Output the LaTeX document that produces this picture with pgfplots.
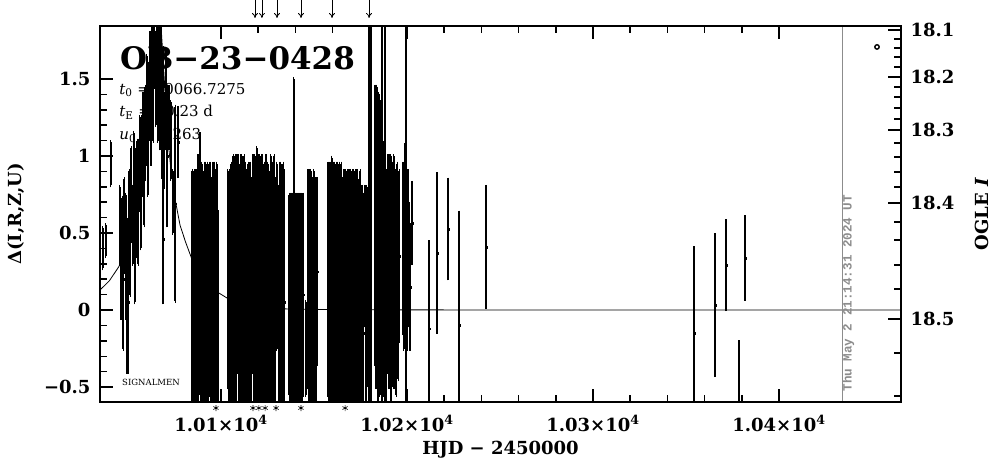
\documentclass[border=0pt]{standalone}
\usepackage{fontspec}
\setmainfont{DejaVu Serif}
\newfontfamily\stampfont{Liberation Mono}
\usepackage{pgfplots}
\pgfplotsset{compat=1.18}
\usetikzlibrary{arrows.meta}

\begin{document}
\begin{tikzpicture}
\path[use as bounding box] (-100pt,-57pt) rectangle (904pt,402pt);
\begin{axis}[
    at={(0,0)}, anchor=south west,
    scale only axis, width=801pt, height=376pt,
    xmin=10034.95, xmax=10465.6,
    ymin=-0.597, ymax=1.844,
    axis line style={line width=1.6pt},
    tick align=inside, xtick pos=both, ytick pos=left,
    scaled x ticks=false,
    xtick={10100,10200,10300,10400},
    xticklabels={1.01×10\textsuperscript{4},1.02×10\textsuperscript{4},1.03×10\textsuperscript{4},1.04×10\textsuperscript{4}},
    minor x tick num=4,
    ytick={-0.5,0,0.5,1,1.5},
    yticklabels={−0.5,0,0.5,1,1.5},
    minor y tick num=4,
    major tick length=13pt, minor tick length=7pt,
    every tick/.style={black, line width=1.5pt},
    ticklabel style={font=\fontsize{18}{18}\selectfont\bfseries},
    xticklabel style={yshift=-10pt},
    yticklabel style={xshift=-6pt},
    xlabel style={font=\fontsize{18}{18}\selectfont\bfseries, yshift=-3pt},
    ylabel style={font=\fontsize{18}{18}\selectfont\bfseries},
    xlabel={HJD − 2450000},
    ylabel={Δ(I,R,Z,U)},
    ylabel shift=13pt,
]
% model curve
\addplot[black, line width=0.8pt] coordinates {
(10034.95,0.13)(10040,0.19)(10045,0.28)(10048,0.36)(10051,0.47)(10054,0.62)
(10057,0.82)(10060,1.08)(10062,1.30)(10064,1.60)(10065.5,1.85)(10066.7,1.95)
(10068,1.80)(10069.5,1.50)(10071,1.17)(10073,0.92)(10075,0.74)(10078,0.55)
(10081,0.44)(10085,0.31)(10090,0.20)(10095,0.14)(10098,0.117)(10105,0.065)
(10110,0.035)(10120,0.015)(10140,0.005)(10200,0.001)(10465.6,0.0)
};
% photometry
\addplot[black, only marks, mark=square*, mark size=0.8pt,
    error bars/.cd, y dir=both, y explicit,
    error bar style={line width=2pt},
    error mark options={black, mark size=2pt, line width=1.2pt}]
coordinates {
(10036.5,0.40) +- (0,0.13)
(10038.0,0.45) +- (0,0.10)
(10040.8,0.95) +- (0,0.14)
(10045.5,0.55) +- (0,0.25)
(10046.2,0.30) +- (0,0.35)
(10046.9,0.45) +- (0,0.28)
(10047.5,0.20) +- (0,0.45)
(10048.1,0.55) +- (0,0.30)
(10048.7,0.35) +- (0,0.40)
(10049.3,0.10) +- (0,0.50)
(10050.0,0.05) +- (0,0.45)
(10050.6,0.60) +- (0,0.30)
(10051.2,0.45) +- (0,0.35)
(10051.8,0.75) +- (0,0.30)
(10052.5,0.55) +- (0,0.25)
(10053.1,0.85) +- (0,0.30)
(10053.7,0.40) +- (0,0.35)
(10054.4,0.70) +- (0,0.35)
(10055.0,0.80) +- (0,0.30)
(10055.6,0.70) +- (0,0.40)
(10056.3,0.95) +- (0,0.30)
(10056.9,0.75) +- (0,0.35)
(10057.5,1.00) +- (0,0.25)
(10058.1,1.10) +- (0,0.30)
(10058.7,0.90) +- (0,0.35)
(10059.4,1.15) +- (0,0.30)
(10060.0,1.30) +- (0,0.35)
(10060.6,1.05) +- (0,0.30)
(10061.2,1.35) +- (0,0.25)
(10061.8,1.50) +- (0,0.30)
(10062.4,1.25) +- (0,0.30)
(10063.0,1.60) +- (0,0.25)
(10063.6,1.45) +- (0,0.35)
(10064.2,1.70) +- (0,0.25)
(10064.8,1.50) +- (0,0.30)
(10065.4,1.75) +- (0,0.20)
(10066.0,1.40) +- (0,0.30)
(10066.6,1.65) +- (0,0.35)
(10067.2,1.30) +- (0,0.25)
(10067.8,1.55) +- (0,0.30)
(10068.4,1.20) +- (0,0.35)
(10068.8,0.46) +- (0,0.41)
(10069.0,1.45) +- (0,0.25)
(10069.6,1.10) +- (0,0.30)
(10070.2,1.35) +- (0,0.30)
(10071.0,1.00) +- (0,0.45)
(10072.0,1.25) +- (0,0.20)
(10073.0,1.10) +- (0,0.25)
(10074.0,0.70) +- (0,0.20)
(10075.5,0.69) +- (0,0.63)
(10076.9,1.09) +- (0,0.22)
(10084.6,0.15) +- (0,0.75)
(10085.1,-0.10) +- (0,0.90)
(10085.6,0.30) +- (0,0.60)
(10086.1,0.05) +- (0,0.85)
(10086.6,0.45) +- (0,0.45)
(10087.1,-0.20) +- (0,1.05)
(10087.6,0.20) +- (0,0.80)
(10088.1,0.55) +- (0,0.40)
(10088.7,0.30) +- (0,0.84)
(10089.2,-0.05) +- (0,0.85)
(10089.7,0.40) +- (0,0.55)
(10090.2,0.10) +- (0,0.80)
(10090.7,-0.30) +- (0,0.95)
(10091.2,0.25) +- (0,0.70)
(10091.7,0.60) +- (0,0.35)
(10092.2,0.00) +- (0,0.90)
(10092.7,0.35) +- (0,0.60)
(10093.2,-0.15) +- (0,0.85)
(10093.7,0.20) +- (0,0.75)
(10094.2,0.50) +- (0,0.45)
(10094.7,0.05) +- (0,0.80)
(10095.2,-0.25) +- (0,0.90)
(10095.7,0.30) +- (0,0.65)
(10096.2,0.10) +- (0,0.85)
(10096.7,-0.10) +- (0,0.95)
(10097.2,0.40) +- (0,0.50)
(10097.7,0.15) +- (0,0.80)
(10098.3,-0.05) +- (0,0.70)
(10103.6,0.20) +- (0,0.70)
(10104.1,-0.15) +- (0,0.95)
(10104.6,0.35) +- (0,0.55)
(10105.1,0.05) +- (0,0.85)
(10105.6,0.50) +- (0,0.45)
(10106.1,-0.25) +- (0,1.10)
(10106.6,0.25) +- (0,0.75)
(10107.1,0.00) +- (0,0.90)
(10107.6,0.40) +- (0,0.60)
(10108.1,-0.10) +- (0,0.95)
(10108.6,0.30) +- (0,0.70)
(10109.1,0.60) +- (0,0.40)
(10109.6,0.10) +- (0,0.85)
(10110.1,-0.30) +- (0,1.05)
(10110.6,0.20) +- (0,0.80)
(10111.1,0.45) +- (0,0.55)
(10111.6,0.05) +- (0,0.90)
(10112.1,-0.20) +- (0,1.00)
(10112.6,0.35) +- (0,0.65)
(10113.1,0.15) +- (0,0.80)
(10113.6,-0.05) +- (0,0.95)
(10114.1,0.40) +- (0,0.50)
(10114.6,0.10) +- (0,0.85)
(10115.1,-0.35) +- (0,1.10)
(10115.6,0.25) +- (0,0.70)
(10116.2,0.05) +- (0,0.80)
(10117.2,0.30) +- (0,0.70)
(10117.7,-0.10) +- (0,0.95)
(10118.2,0.45) +- (0,0.55)
(10118.7,0.05) +- (0,0.85)
(10119.2,0.25) +- (0,0.80)
(10119.7,-0.25) +- (0,1.05)
(10120.2,0.55) +- (0,0.45)
(10120.7,0.10) +- (0,0.90)
(10121.2,-0.05) +- (0,0.95)
(10121.7,0.35) +- (0,0.65)
(10122.2,0.15) +- (0,0.85)
(10122.7,-0.30) +- (0,1.00)
(10123.2,0.40) +- (0,0.55)
(10123.7,0.00) +- (0,0.90)
(10124.2,0.20) +- (0,0.80)
(10124.7,-0.15) +- (0,1.00)
(10125.2,0.50) +- (0,0.45)
(10125.7,0.10) +- (0,0.80)
(10126.2,-0.20) +- (0,0.95)
(10126.7,0.30) +- (0,0.70)
(10127.2,0.05) +- (0,0.90)
(10127.7,0.45) +- (0,0.50)
(10128.2,-0.10) +- (0,0.90)
(10128.7,0.25) +- (0,0.75)
(10129.2,0.00) +- (0,0.85)
(10130.0,0.35) +- (0,0.60)
(10131.0,-0.20) +- (0,1.00)
(10131.6,0.15) +- (0,0.80)
(10132.2,0.40) +- (0,0.55)
(10132.8,-0.05) +- (0,0.90)
(10133.4,0.20) +- (0,0.75)
(10134.0,0.05) +- (0,0.85)
(10136.8,0.10) +- (0,0.65)
(10137.3,-0.20) +- (0,0.95)
(10137.8,0.30) +- (0,0.45)
(10138.3,0.00) +- (0,0.75)
(10139.0,0.40) +- (0,1.10)
(10139.6,-0.10) +- (0,0.85)
(10140.1,0.25) +- (0,0.50)
(10140.6,-0.30) +- (0,1.05)
(10141.1,0.10) +- (0,0.65)
(10141.6,0.35) +- (0,0.40)
(10142.1,-0.15) +- (0,0.90)
(10142.6,0.05) +- (0,0.70)
(10143.1,0.20) +- (0,0.55)
(10143.6,-0.25) +- (0,0.95)
(10144.1,0.10) +- (0,0.65)
(10145.5,-0.25) +- (0,0.30)
(10146.8,0.20) +- (0,0.70)
(10147.3,-0.15) +- (0,1.00)
(10147.8,0.40) +- (0,0.50)
(10148.3,0.05) +- (0,0.85)
(10148.8,0.30) +- (0,0.55)
(10149.3,-0.20) +- (0,1.05)
(10149.8,0.15) +- (0,0.75)
(10150.3,0.45) +- (0,0.40)
(10150.8,0.00) +- (0,0.85)
(10151.3,-0.10) +- (0,0.95)
(10151.8,0.25) +- (0,0.60)
(10157.5,0.20) +- (0,0.75)
(10158.0,-0.15) +- (0,1.05)
(10158.5,0.45) +- (0,0.50)
(10159.0,0.05) +- (0,0.90)
(10159.6,0.30) +- (0,0.69)
(10160.1,-0.25) +- (0,1.10)
(10160.6,0.50) +- (0,0.45)
(10161.1,0.10) +- (0,0.85)
(10161.6,-0.05) +- (0,0.95)
(10162.1,0.35) +- (0,0.60)
(10162.6,0.15) +- (0,0.80)
(10163.1,-0.30) +- (0,1.05)
(10163.6,0.40) +- (0,0.55)
(10164.1,0.00) +- (0,0.90)
(10164.6,0.20) +- (0,0.75)
(10165.1,-0.15) +- (0,1.00)
(10165.6,0.45) +- (0,0.40)
(10166.1,0.10) +- (0,0.80)
(10166.8,0.25) +- (0,0.65)
(10167.3,-0.10) +- (0,0.95)
(10167.8,0.40) +- (0,0.50)
(10168.3,0.05) +- (0,0.85)
(10168.8,-0.20) +- (0,1.05)
(10169.3,0.30) +- (0,0.60)
(10169.8,0.10) +- (0,0.80)
(10170.3,-0.05) +- (0,0.90)
(10170.8,0.35) +- (0,0.55)
(10171.3,0.15) +- (0,0.75)
(10171.8,-0.25) +- (0,1.10)
(10172.3,0.45) +- (0,0.45)
(10172.8,0.00) +- (0,0.90)
(10173.3,0.20) +- (0,0.70)
(10173.8,-0.15) +- (0,0.95)
(10174.3,0.30) +- (0,0.55)
(10174.8,0.05) +- (0,0.85)
(10175.4,-0.10) +- (0,0.90)
(10176.0,0.20) +- (0,0.60)
(10176.6,-0.15) +- (0,0.90)
(10177.2,0.35) +- (0,0.45)
(10177.8,0.00) +- (0,0.80)
(10178.4,0.15) +- (0,0.65)
(10179.6,0.50) +- (0,2.00)
(10180.4,0.20) +- (0,2.00)
(10182.8,0.55) +- (0,0.90)
(10183.3,0.30) +- (0,0.80)
(10183.8,0.60) +- (0,0.85)
(10184.3,0.10) +- (0,0.70)
(10184.8,0.45) +- (0,0.95)
(10185.3,0.20) +- (0,0.75)
(10185.8,0.70) +- (0,0.65)
(10186.6,0.50) +- (0,1.50)
(10187.2,0.25) +- (0,0.80)
(10187.7,0.40) +- (0,0.70)
(10188.2,0.60) +- (0,1.40)
(10188.8,0.15) +- (0,0.75)
(10189.8,0.30) +- (0,0.70)
(10190.3,0.05) +- (0,0.55)
(10190.8,0.45) +- (0,0.55)
(10191.3,0.20) +- (0,0.80)
(10191.8,-0.05) +- (0,0.45)
(10192.3,0.50) +- (0,0.45)
(10192.8,0.25) +- (0,0.75)
(10193.3,0.10) +- (0,0.60)
(10193.8,0.40) +- (0,0.50)
(10194.3,0.15) +- (0,0.70)
(10194.8,0.55) +- (0,0.40)
(10195.3,0.20) +- (0,0.65)
(10195.8,0.35) +- (0,0.55)
(10197.8,0.40) +- (0,0.55)
(10198.3,0.20) +- (0,0.45)
(10198.8,0.50) +- (0,0.57)
(10199.5,0.40) +- (0,2.00)
(10200.0,0.25) +- (0,0.50)
(10200.5,0.45) +- (0,0.45)
(10201.0,0.30) +- (0,0.40)
(10201.6,0.15) +- (0,0.40)
(10202.7,0.565) +- (0,0.26)
(10211.8,-0.12) +- (0,0.56)
(10216.1,0.37) +- (0,0.51)
(10222.0,0.526) +- (0,0.32)
(10228.0,-0.097) +- (0,0.73)
(10242.5,0.409) +- (0,0.39)
(10354.3,-0.149) +- (0,0.55)
(10365.6,0.032) +- (0,0.455)
(10371.5,0.292) +- (0,0.286)
(10378.5,-0.65) +- (0,0.44)
(10381.7,0.338) +- (0,0.266)
};
% lone point at upper right
\addplot[black, only marks, mark=o, mark size=2.2pt, line width=1.4pt] coordinates {(10452.7,1.708)};
% time-stamp line
\addplot[black!45, line width=0.8pt] coordinates {(10434,-0.7) (10434,1.9)};
\node[rotate=90, anchor=west, text=black!45, inner sep=0pt,
      font=\stampfont\bfseries\fontsize{12.6}{12.6}\selectfont]
      at (axis cs:10437.3,-0.53) {Thu May  2 21:14:31 2024 UT};
\node[anchor=base west, inner sep=0pt, font=\fontsize{31}{31}\selectfont\bfseries]
      at (rel axis cs:0.025,0.883) {OB−23−0428};
\node[anchor=base west, inner sep=0pt, font=\fontsize{15}{15}\selectfont]
      at (rel axis cs:0.024,0.819) {\textit{t}\textsubscript{0} = 10066.7275};
\node[anchor=base west, inner sep=0pt, font=\fontsize{15}{15}\selectfont]
      at (rel axis cs:0.024,0.758) {\textit{t}\textsubscript{E} = 20.23 d};
\node[anchor=base west, inner sep=0pt, font=\fontsize{15}{15}\selectfont]
      at (rel axis cs:0.024,0.699) {\textit{u}\textsubscript{0} = 0.263};
\node[anchor=base west, inner sep=0pt, font=\fontsize{8.5}{8.5}\selectfont]
      at (rel axis cs:0.0275,0.045) {SIGNALMEN};
\end{axis}

% right-hand OGLE I scale, arrows and asterisks
\begin{axis}[
    at={(0,0)}, anchor=south west,
    scale only axis, width=801pt, height=376pt,
    xmin=10034.95, xmax=10465.6,
    ymin=-0.597, ymax=1.844,
    clip=false,
    axis line style={line width=1.6pt},
    xtick=\empty,
    tick align=inside, ytick pos=right, yticklabel pos=right,
    ytick={1.818,1.513,1.169,0.695,-0.058},
    yticklabels={18.1,18.2,18.3,18.4,18.5},
    minor ytick={1.760,1.701,1.643,1.578,1.448,1.383,1.312,1.240,1.084,0.994,0.896,0.799,0.571,0.455,0.292,0.136,-0.279,-0.558},
    major tick length=13pt, minor tick length=7pt,
    every tick/.style={black, line width=1.5pt},
    ticklabel style={font=\fontsize{18}{18}\selectfont\bfseries},
    yticklabel style={xshift=6pt},
    ylabel={OGLE \textit{I}},
    ylabel near ticks,
    ylabel style={font=\fontsize{18}{18}\selectfont\bfseries},
    ylabel shift=14pt,
]
\addplot[black, line width=0.8pt, -{To[length=5pt,width=6pt]},
    quiver={u=0, v=-0.117}] coordinates {
(10118.3,2.013)(10122.0,2.013)(10130.1,2.013)(10143.0,2.013)(10159.7,2.013)(10179.6,2.013)
};
\addplot[black, only marks, mark=asterisk, mark size=3pt, line width=0.6pt] coordinates {
(10097.3,-0.636)(10117.2,-0.636)(10120.4,-0.636)(10123.7,-0.636)(10129.6,-0.636)(10143.0,-0.636)(10166.7,-0.636)
};
\end{axis}
\end{tikzpicture}
\end{document}
